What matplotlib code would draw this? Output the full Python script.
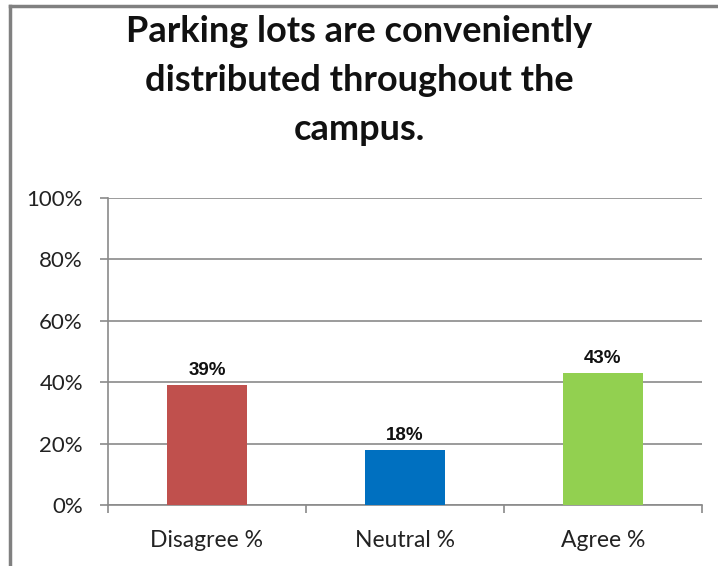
import matplotlib
matplotlib.use("Agg")
import matplotlib.pyplot as plt
from matplotlib.lines import Line2D
from matplotlib.ticker import FixedLocator, PercentFormatter

categories = ["Disagree %", "Neutral %", "Agree %"]
values = [0.39, 0.18, 0.43]
labels = ["39%", "18%", "43%"]
colors = ["#C0504D", "#0070C0", "#92D050"]
yticks = [0, 0.2, 0.4, 0.6, 0.8, 1.0]
title = "Parking lots are conveniently\ndistributed throughout the\ncampus."

W, H = 718, 566
fig = plt.figure(figsize=(W / 100, H / 100), dpi=100)
ax = fig.add_axes([108 / W, 61 / H, 594 / W, 307 / H])

x = list(range(len(categories)))
ax.bar(x, values, width=0.4, color=colors, zorder=3)
for xi, v, lab in zip(x, values, labels):
    ax.annotate(lab, (xi, v), xytext=(0, 10), textcoords="offset pixels",
                ha="center", va="baseline", fontsize=13.5, fontweight="bold",
                family="Liberation Sans", color="#111111")

ax.set_xlim(-0.5, 2.5)
ax.set_ylim(0, 1)
ax.set_yticks(yticks)
ax.yaxis.set_major_formatter(PercentFormatter(1.0, decimals=0))
ax.grid(axis="y", color="#8a8a8a", linewidth=1.2, zorder=0)
ax.set_axisbelow(True)

ax.set_xticks(x)
ax.set_xticklabels(categories, family="Lato", fontsize=16.5, color="#222222")
ax.xaxis.set_minor_locator(FixedLocator([-0.5, 0.5, 1.5, 2.5]))
ax.tick_params(axis="x", which="major", length=0, pad=18)
ax.tick_params(axis="x", which="minor", length=6, color="#8a8a8a", width=1.2)
ax.tick_params(axis="y", length=6, color="#8a8a8a", width=1.2, pad=12, labelsize=16)
for t in ax.get_yticklabels():
    t.set_family("Lato")
    t.set_color("#222222")

for s in ["top", "right"]:
    ax.spines[s].set_visible(False)
for s in ["left", "bottom"]:
    ax.spines[s].set_color("#8a8a8a")
    ax.spines[s].set_linewidth(1.2)

fig.text(0.5, 1 - 15 / H, title, ha="center", va="top", fontsize=26,
         fontweight="bold", family="Lato", linespacing=1.6, color="#111111")

fig.add_artist(Line2D([10 / W, 1], [1 - 6 / H, 1 - 6 / H], color="#808080", linewidth=2.5))
fig.add_artist(Line2D([10 / W, 10 / W], [0, 1 - 6 / H], color="#808080", linewidth=2.5))

fig.savefig("out.png", dpi=100)
